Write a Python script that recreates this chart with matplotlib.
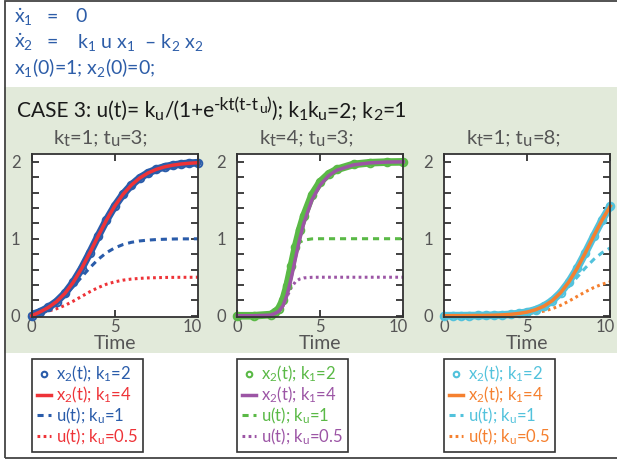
import matplotlib
matplotlib.use("Agg")
import matplotlib.pyplot as plt
from matplotlib.lines import Line2D
from matplotlib.patches import Rectangle
from matplotlib.ticker import MultipleLocator
from matplotlib.transforms import ScaledTranslation

# time grids (panels 1 and 3 share one, panel 2 is finer near the jump)
TIME_A = [0, 0.5, 1, 1.5, 2, 2.5, 3, 3.5, 4, 4.5, 5, 5.5, 6, 6.5, 7,
          7.5, 8, 8.5, 9, 9.5, 10]
TIME_B = [0, 1, 2, 2.25, 2.5, 2.75, 3, 3.25, 3.5, 3.75, 4, 4.5, 5, 5.5,
          6, 7, 8, 9, 10]

# panel 1: kt=1, tu=3
P1_X2_K2 = [0.0, 0.049, 0.107, 0.184, 0.290, 0.433, 0.611, 0.817, 1.033,
            1.240, 1.424, 1.576, 1.696, 1.787, 1.853, 1.900, 1.933, 1.955,
            1.970, 1.980, 1.987]
P1_X2_K4 = [0.0, 0.049, 0.107, 0.184, 0.290, 0.433, 0.611, 0.817, 1.033,
            1.240, 1.424, 1.576, 1.696, 1.787, 1.853, 1.900, 1.933, 1.955,
            1.970, 1.980, 1.987]
P1_U_1 = [0.047, 0.076, 0.119, 0.182, 0.269, 0.378, 0.500, 0.622, 0.731,
          0.818, 0.881, 0.924, 0.953, 0.971, 0.982, 0.989, 0.993, 0.996,
          0.998, 0.998, 0.999]
P1_U_05 = [0.024, 0.038, 0.060, 0.091, 0.134, 0.189, 0.250, 0.311, 0.365,
           0.409, 0.440, 0.462, 0.476, 0.485, 0.491, 0.494, 0.497, 0.498,
           0.499, 0.499, 0.500]

# panel 2: kt=4, tu=3
P2_X2_K2 = [0.0, 0.0, 0.015, 0.045, 0.090, 0.200, 0.390, 0.640, 0.890,
            1.110, 1.290, 1.570, 1.740, 1.840, 1.900, 1.965, 1.987, 1.995,
            1.998]
P2_X2_K4 = [0.0, 0.0, 0.008, 0.028, 0.057, 0.128, 0.270, 0.487, 0.741,
            0.985, 1.196, 1.507, 1.700, 1.818, 1.890, 1.959, 1.985, 1.995,
            1.998]
P2_U_1 = [0.0, 0.0, 0.018, 0.047, 0.119, 0.269, 0.500, 0.731, 0.881, 0.953,
          0.982, 0.998, 1.0, 1.0, 1.0, 1.0, 1.0, 1.0, 1.0]
P2_U_05 = [0.0, 0.0, 0.009, 0.024, 0.060, 0.134, 0.250, 0.365, 0.440,
           0.476, 0.491, 0.499, 0.5, 0.5, 0.5, 0.5, 0.5, 0.5, 0.5]

# panel 3: kt=1, tu=8
P3_X2_K2 = [0.0, 0.001, 0.001, 0.002, 0.003, 0.004, 0.007, 0.011, 0.018,
            0.030, 0.048, 0.078, 0.124, 0.195, 0.297, 0.437, 0.614, 0.818,
            1.034, 1.241, 1.424]
P3_X2_K4 = [0.0, 0.001, 0.001, 0.002, 0.003, 0.004, 0.007, 0.011, 0.018,
            0.030, 0.048, 0.078, 0.124, 0.195, 0.297, 0.437, 0.614, 0.818,
            1.034, 1.241, 1.424]
P3_U_1 = [0.000, 0.001, 0.001, 0.002, 0.002, 0.004, 0.007, 0.011, 0.018,
          0.029, 0.047, 0.076, 0.119, 0.182, 0.269, 0.378, 0.500, 0.622,
          0.731, 0.818, 0.881]
P3_U_05 = [0.000, 0.000, 0.000, 0.001, 0.001, 0.002, 0.003, 0.005, 0.009,
           0.015, 0.024, 0.038, 0.060, 0.091, 0.134, 0.189, 0.250, 0.311,
           0.365, 0.409, 0.440]

# (kt, tu) of each panel, shown in its title
PANEL_KT = ["1", "4", "1"]
PANEL_TU = ["3", "3", "8"]
LEGEND_LABELS = ["x$_2$(t); k$_1$=2", "x$_2$(t); k$_1$=4",
                 "u(t); k$_u$=1", "u(t); k$_u$=0.5"]
X_TICKS = [0, 5, 10]
Y_TICKS = [0, 1, 2]

W, H = 617, 461
GRAY = "#555555"
DARK = "#333333"
EQ_BLUE = "#2d5da8"
DASH = (0, (2.0, 1.6))
DOT = (0, (0.9, 1.1))


def fx(x):
    """Pixel x -> figure fraction."""
    return x / W


def fy(y):
    """Pixel y (from top) -> figure fraction."""
    return 1 - y / H


def text_run(fig, x, y, pieces, color):
    """
    Write several text pieces one after the other on a baseline.
    Each piece is (text, fontsize, raise_in_pixels).
    """
    renderer = fig.canvas.get_renderer()
    for txt, size, dy in pieces:
        t = fig.text(fx(x), fy(y - dy), txt, color=color, fontsize=size,
                     va="baseline", ha="left")
        x += t.get_window_extent(renderer).width


def style_axes(ax, fig):
    """Box, inward ticks and grey labels like the original."""
    ax.set_xlim(0, 10)
    ax.set_ylim(-0.01, 2.1)
    ax.set_xticks(X_TICKS)
    ax.set_yticks(Y_TICKS)
    ax.yaxis.set_minor_locator(MultipleLocator(0.2))
    ax.tick_params(which="both", direction="in", top=True, right=True,
                   length=5, width=1.3, color=DARK, labelcolor=GRAY,
                   labelsize=12)
    ax.tick_params(axis="x", pad=1.5)
    ax.tick_params(axis="y", pad=8)
    for sp in ax.spines.values():
        sp.set_color(DARK)
        sp.set_linewidth(1.3)
    ax.set_xlabel("Time", color=GRAY, fontsize=14, labelpad=0.5)
    # the "10" label sits a little to the left of the corner
    last = ax.get_xticklabels()[-1]
    last.set_transform(last.get_transform()
                       + ScaledTranslation(-5 / 100, 0, fig.dpi_scale_trans))


def draw_panel(ax, t, x2_k2, x2_k4, u_1, u_05, c_a, c_b):
    """Plot the four curves of one case."""
    ax.plot(t, u_1, color=c_a, lw=2.2, ls=DASH, clip_on=False)
    ax.plot(t, u_05, color=c_b, lw=2.2, ls=DOT, clip_on=False)
    ax.plot(t, x2_k2, color=c_a, lw=5.5, clip_on=False,
            solid_capstyle="round")
    ax.plot(t, x2_k2, color=c_a, ls="none", marker="o", ms=5.5,
            mfc="none", mew=1.4, clip_on=False)
    ax.plot(t, x2_k4, color=c_b, lw=2.5, clip_on=False)


def main():
    plt.rcParams["font.family"] = ["Lato", "DejaVu Sans"]
    plt.rcParams["mathtext.fontset"] = "custom"
    plt.rcParams["mathtext.rm"] = "Lato"
    plt.rcParams["mathtext.it"] = "Lato"
    plt.rcParams["mathtext.bf"] = "Lato:bold"
    plt.rcParams["mathtext.default"] = "regular"

    fig = plt.figure(figsize=(W / 100, H / 100), dpi=100)

    # green band behind the plots and the outer frame
    fig.add_artist(Rectangle((fx(4), fy(352.7)), 1, fy(87.5) - fy(352.7),
                             transform=fig.transFigure, facecolor="#e2eada",
                             edgecolor="none", zorder=-2))
    fig.add_artist(Rectangle((fx(4.5), fy(458)), 1.2, fy(1) - fy(458),
                             transform=fig.transFigure, facecolor="none",
                             edgecolor="#444444", lw=1.3, zorder=-1))

    # equations at the top
    eq = dict(color=EQ_BLUE, fontsize=14, va="baseline")
    fig.text(fx(14), fy(22.5), r"$\dot{x}_1$", **eq)
    fig.text(fx(46), fy(22.5), "=", **eq)
    fig.text(fx(75), fy(22.5), "0", **eq)
    fig.text(fx(14), fy(48), r"$\dot{x}_2$", **eq)
    fig.text(fx(46), fy(48), "=", **eq)
    fig.text(fx(77), fy(48), "k$_1$ u x$_1$  \u2013 k$_2$ x$_2$", **eq)
    fig.text(fx(14), fy(73.5), "x$_1$(0)=1; x$_2$(0)=0;", **eq)

    big, sub, sup = 15, 11.5, 12.5
    text_run(fig, 17, 117,
             [("CASE 3: u(t)= k", big, 0), ("u", sub, -3),
              ("/(1+e", big, 0), ("-kt(t-t", sup, 7), ("u", 10, 4),
              (")", sup, 7), ("); k", big, 0), ("1", sub, -3),
              ("k", big, 0), ("u", sub, -3), ("=2; k", big, 0),
              ("2", sub, -3), ("=1", big, 0)],
             "#1a1a1a")

    lefts = [31.7, 237.3, 444.3]
    panels = [
        (TIME_A, P1_X2_K2, P1_X2_K4, P1_U_1, P1_U_05, "#2a5caa", "#ee3338"),
        (TIME_B, P2_X2_K2, P2_X2_K4, P2_U_1, P2_U_05, "#5ab946", "#9c55a5"),
        (TIME_A, P3_X2_K2, P3_X2_K4, P3_U_1, P3_U_05, "#52c2dc", "#f5802f"),
    ]
    for i, (left, data) in enumerate(zip(lefts, panels)):
        ax = fig.add_axes([fx(left), fy(316.5), 166 / W, (316.5 - 154) / H])
        style_axes(ax, fig)
        t, x2_k2, x2_k4, u_1, u_05, c_a, c_b = data
        draw_panel(ax, t, x2_k2, x2_k4, u_1, u_05, c_a, c_b)
        text_run(fig, left + 22, 143.5,
                 [("k", 14.5, 0), ("t", 12, -3),
                  ("=" + PANEL_KT[i] + "; t", 14.5, 0), ("u", 12, -3),
                  ("=" + PANEL_TU[i] + ";", 14.5, 0)],
                 GRAY)

        handles = [
            Line2D([], [], color=c_a, ls="none", marker="o", ms=4,
                   mfc="none", mew=1.5),
            Line2D([], [], color=c_b, lw=2.5),
            Line2D([], [], color=c_a, lw=2.2, ls=DASH),
            Line2D([], [], color=c_b, lw=2.2, ls=DOT),
        ]
        leg = fig.legend(handles, LEGEND_LABELS, loc="upper left",
                         bbox_to_anchor=(fx(left), fy(359)),
                         bbox_transform=fig.transFigure, borderaxespad=0,
                         fontsize=12, handlelength=0.85, handletextpad=0.3,
                         labelspacing=0.02, borderpad=0.3, fancybox=False,
                         framealpha=1, edgecolor=DARK,
                         labelcolor=[c_a, c_b, c_a, c_b])
        leg.get_frame().set_linewidth(1.2)

    fig.savefig("out.png", dpi=100)


if __name__ == "__main__":
    main()
